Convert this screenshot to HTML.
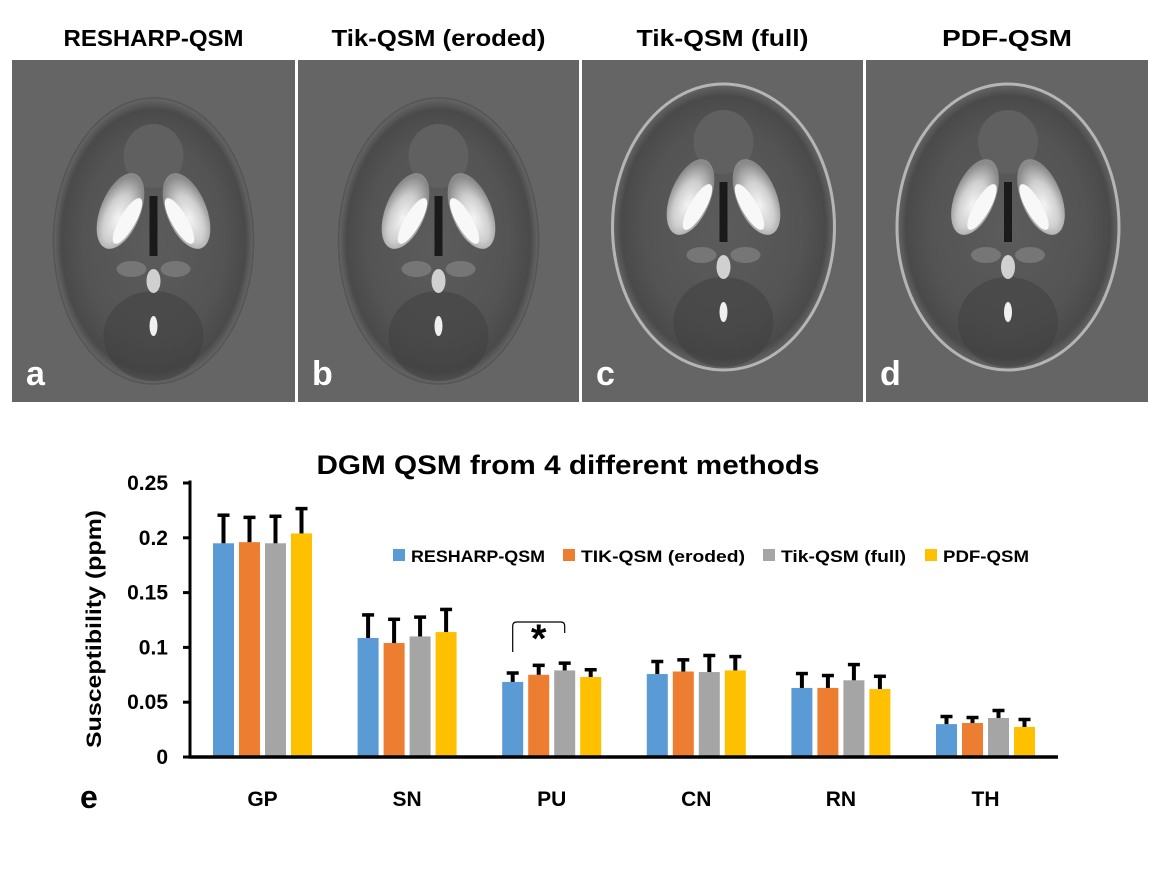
<!DOCTYPE html>
<html><head><meta charset="utf-8"><style>
body{margin:0;background:#fff;width:1162px;height:889px;overflow:hidden;font-family:"Liberation Sans",sans-serif}
svg{display:block}
text{font-family:"Liberation Sans",sans-serif;font-weight:bold}
</style></head><body>
<svg id="fig" width="1162" height="889" viewBox="0 0 1162 889">
<defs>
<radialGradient id="brainG" cx="50%" cy="50%" r="50%">
<stop offset="0%" stop-color="#5c5c5c"/><stop offset="70%" stop-color="#545454"/><stop offset="92%" stop-color="#4a4a4a"/><stop offset="100%" stop-color="#666"/>
</radialGradient>
<radialGradient id="putG" cx="50%" cy="60%" r="55%">
<stop offset="0%" stop-color="#f4f4f4"/><stop offset="55%" stop-color="#cfcfcf"/><stop offset="100%" stop-color="#8a8a8a"/>
</radialGradient>
</defs>
<g id="panels"></g>
<g id="chart"></g>
</svg>
<script>
// ---- chart data ----
const categories = ["GP","SN","PU","CN","RN","TH"];
const seriesNames = ["RESHARP-QSM","TIK-QSM (eroded)","Tik-QSM (full)","PDF-QSM"];
const seriesColors = ["#5b9bd5","#ed7d31","#a5a5a5","#ffc000"];
const resharp = [0.195,0.1086,0.0685,0.0757,0.063,0.030];
const tikEroded = [0.196,0.104,0.075,0.078,0.063,0.031];
const tikFull = [0.195,0.110,0.079,0.0775,0.070,0.0356];
const pdf = [0.204,0.114,0.073,0.079,0.062,0.0274];
const resharpErr = [0.027,0.0224,0.0095,0.0128,0.0145,0.0083];
const tikErodedErr = [0.024,0.023,0.010,0.012,0.0127,0.0064];
const tikFullErr = [0.026,0.019,0.008,0.0165,0.0157,0.0082];
const pdfErr = [0.024,0.022,0.008,0.014,0.013,0.0082];
const yTicks = [0,0.05,0.1,0.15,0.2,0.25];
const yTickLabels = ["0","0.05","0.1","0.15","0.2","0.25"];

const NS="http://www.w3.org/2000/svg";
function mk(tag,attrs,parent){const e=document.createElementNS(NS,tag);for(const k in attrs)e.setAttribute(k,attrs[k]);parent.appendChild(e);return e;}

// ---- panels ----
const panels=document.getElementById('panels');
const pdefs=[{x:12,w:283,t:"RESHARP-QSM",tw:180,l:"a",rx:100,ry:143,cy:241,rim:false},{x:298,w:281,t:"Tik-QSM (eroded)",tw:214,l:"b",rx:100,ry:143,cy:241,rim:false},{x:582,w:281,t:"Tik-QSM (full)",tw:172,l:"c",rx:111,ry:143,cy:227,rim:true},{x:866,w:282,t:"PDF-QSM",tw:130,l:"d",rx:111,ry:143,cy:227,rim:true}];
pdefs.forEach(p=>{
  const g=mk('g',{},panels);
  
  
  const tt=mk('text',{x:p.x+p.w/2,y:46,'text-anchor':'middle','font-size':23,fill:'#000',textLength:p.tw,lengthAdjust:'spacingAndGlyphs'},g);
  tt.textContent=p.t;
  
  
  mk('rect',{x:p.x,y:60,width:p.w,height:342,fill:'#656565'},g);
  const cx=p.x+p.w/2+(p.rim?1:0), cy=p.cy;
  const br=mk('ellipse',{cx:cx,cy:cy,rx:p.rx,ry:p.ry,fill:'url(#brainG)',stroke:p.rim?'#b5b5b5':'#555','stroke-width':p.rim?3:1.5},g);
  
  
  mk('ellipse',{cx:cx,cy:cy-85,rx:30,ry:32,fill:'#606060'},g);
  mk('ellipse',{cx:cx,cy:cy+95,rx:50,ry:45,fill:'#3e3e3e',opacity:0.5},g);
  [-1,1].forEach(s=>{
    mk('ellipse',{cx:cx+s*33,cy:cy-30,rx:20,ry:40,fill:'url(#putG)',transform:`rotate(${s*-22} ${cx+s*33} ${cy-30})`},g);
    mk('ellipse',{cx:cx+s*26,cy:cy-20,rx:8,ry:26,fill:'#f8f8f8',transform:`rotate(${s*-30} ${cx+s*26} ${cy-20})`},g);
    mk('ellipse',{cx:cx+s*22,cy:cy+28,rx:15,ry:8,fill:'#767676'},g);
  });
  mk('rect',{x:cx-4,y:cy-45,width:8,height:60,fill:'#1a1a1a'},g);
  mk('ellipse',{cx:cx,cy:cy+40,rx:7,ry:12,fill:'#d0d0d0'},g);
  mk('ellipse',{cx:cx,cy:cy+85,rx:4,ry:10,fill:'#f0f0f0'},g);
  const lb=mk('text',{x:p.x+14,y:385,'font-size':34,fill:'#fff'},g);
  lb.textContent=p.l;
  
  
});

// ---- chart ----
const chart=document.getElementById('chart');
const x0=190, y0=757, pxPerUnit=1096;
const groupStart=213, groupStep=144.6, barStep=26, barW=21;
function yScale(v){return y0-v*pxPerUnit;}
function xBar(ci,si){return groupStart+ci*groupStep+si*barStep;}
const series=[resharp,tikEroded,tikFull,pdf];
const errs=[resharpErr,tikErodedErr,tikFullErr,pdfErr];

const title=mk('text',{x:568,y:474,'text-anchor':'middle','font-size':27,fill:'#000',textLength:503,lengthAdjust:'spacingAndGlyphs'},chart);
title.textContent="DGM QSM from 4 different methods";



const yl=mk('text',{x:0,y:0,'text-anchor':'middle','font-size':21,fill:'#000',textLength:238,lengthAdjust:'spacingAndGlyphs',transform:'translate(101,629) rotate(-90)'},chart);
yl.textContent="Susceptibility (ppm)";



yTicks.forEach((t,i)=>{
  const y=yScale(t);
  mk('line',{x1:183,x2:x0,y1:y,y2:y,stroke:'#000','stroke-width':3},chart);
  const tl=mk('text',{x:168,y:y+7,'text-anchor':'end','font-size':21,fill:'#000'},chart);
  tl.textContent=yTickLabels[i];
  
  
});

series.forEach((vals,si)=>{
  vals.forEach((v,ci)=>{
    const x=xBar(ci,si);
    const r=mk('rect',{x:x,y:yScale(v),width:barW,height:y0-yScale(v),fill:seriesColors[si]},chart);
    
    
    const et=yScale(v+errs[si][ci]);
    const eg=mk('g',{},chart);
    
    
    mk('line',{x1:x+barW/2,x2:x+barW/2,y1:yScale(v),y2:et,stroke:'#000','stroke-width':4},eg);
    mk('line',{x1:x+barW/2-6,x2:x+barW/2+6,y1:et+1.5,y2:et+1.5,stroke:'#000','stroke-width':3.5},eg);
  });
});

mk('line',{x1:x0,x2:x0,y1:480.5,y2:y0+1.5,stroke:'#000','stroke-width':3},chart);
mk('line',{x1:x0-1.5,x2:1058,y1:y0,y2:y0,stroke:'#000','stroke-width':3.5},chart);

categories.forEach((c,ci)=>{
  const t=mk('text',{x:xBar(ci,0)+(3*barStep+barW)/2,y:806,'text-anchor':'middle','font-size':21,fill:'#000'},chart);
  t.textContent=c;
  
  
});

const e=mk('text',{x:80,y:808,'font-size':32,fill:'#000'},chart);
e.textContent="e";



// legend
const legX=[393,563,763,925];
const legW=[134,164,125,86];
seriesNames.forEach((n,i)=>{
  const g=mk('g',{},chart);
  
  
  mk('rect',{x:legX[i],y:549,width:12,height:12,fill:seriesColors[i]},g);
  const t=mk('text',{x:legX[i]+18,y:562,'font-size':17,fill:'#000',textLength:legW[i],lengthAdjust:'spacingAndGlyphs'},g);
  t.textContent=n;
});

// significance bracket (PU: RESHARP vs Tik full)
const bx1=xBar(2,0)+barW/2, bx2=xBar(2,2)+barW/2;
const br=mk('path',{d:`M${bx1} 652 L${bx1} 626 Q${bx1} 622 ${bx1+4} 622 L${bx2-4} 622 Q${bx2} 622 ${bx2} 626 L${bx2} 633`,fill:'none',stroke:'#000','stroke-width':1.2},chart);


const st=mk('text',{x:(bx1+bx2)/2,y:652,'text-anchor':'middle','font-size':40,fill:'#000'},chart);
st.textContent="*";


</script>
</body></html>
